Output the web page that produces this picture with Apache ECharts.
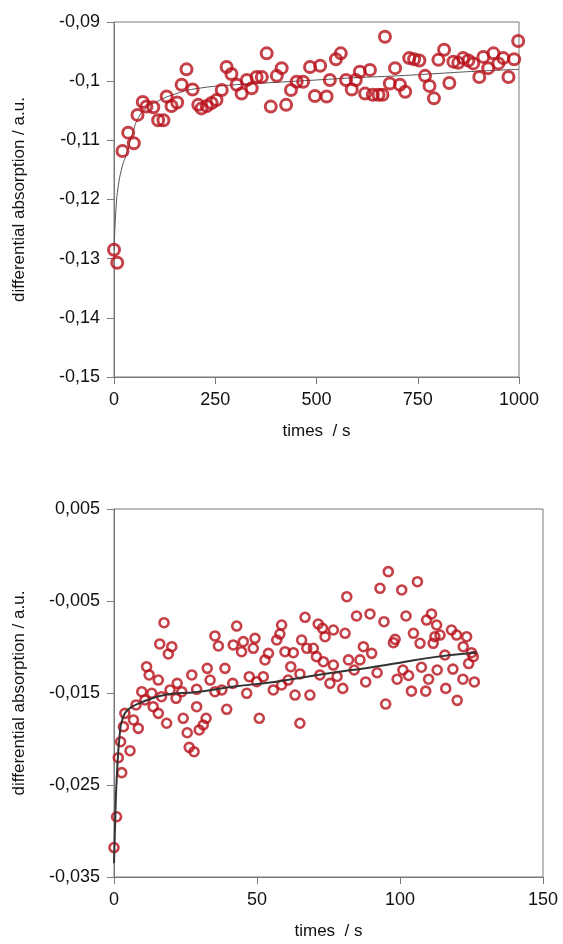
<!DOCTYPE html>
<html>
<head>
<meta charset="utf-8">
<script src="https://cdn.jsdelivr.net/npm/echarts@6/dist/echarts.min.js"></script>
<style>
html,body{margin:0;padding:0;background:#fff;}
#chart{width:563px;height:944px;}
</style>
</head>
<body>
<div id="chart"></div>
<script>
// ---------- Top panel data (time in s, differential absorption) ----------
const topTimes = [0,8,21,35,49,58,71,80,97,109,122,130,142,156,167,179,194,208,216,229,241,253,266,278,290,303,315,328,340,352,365,377,387,402,414,425,437,451,467,484,496,509,525,533,548,560,573,587,597,607,620,632,639,653,663,669,681,694,706,719,729,741,754,768,779,790,801,815,828,838,850,862,875,887,902,912,924,937,949,961,974,988,998];
const topValues = [-0.1285,-0.1307,-0.1118,-0.1087,-0.1105,-0.1057,-0.1035,-0.1043,-0.1044,-0.1066,-0.1066,-0.1026,-0.1042,-0.1036,-0.1006,-0.0980,-0.1014,-0.1040,-0.1046,-0.1042,-0.1037,-0.1032,-0.1015,-0.0976,-0.0988,-0.1006,-0.1021,-0.0998,-0.1012,-0.0993,-0.0993,-0.0953,-0.1043,-0.0991,-0.0978,-0.1040,-0.1015,-0.1001,-0.1001,-0.0976,-0.1025,-0.0974,-0.1026,-0.0998,-0.0963,-0.0953,-0.0998,-0.1014,-0.0998,-0.0984,-0.1021,-0.0981,-0.1023,-0.1023,-0.1023,-0.0925,-0.1004,-0.0978,-0.1006,-0.1018,-0.0961,-0.0963,-0.0965,-0.0991,-0.1008,-0.1029,-0.0964,-0.0947,-0.1003,-0.0967,-0.0969,-0.0961,-0.0965,-0.0970,-0.0993,-0.0959,-0.0978,-0.0953,-0.0970,-0.0961,-0.0993,-0.0963,-0.0932];
const topFitTimes = [0,5,10,20,30,45,60,80,110,150,200,300,400,500,600,700,800,900,1000];
const topFitValues = [-0.1285,-0.1215,-0.1180,-0.1145,-0.1125,-0.1090,-0.1062,-0.1045,-0.1033,-0.1022,-0.1013,-0.1006,-0.1002,-0.0998,-0.0994,-0.0991,-0.0987,-0.0983,-0.0980];

// ---------- Bottom panel data ----------
const botTimes = [0,0.9,1.5,2.3,2.7,3.3,3.8,5.6,6.8,7.7,8.5,9.7,10.8,11.4,12.3,13.2,13.7,15.5,15.5,16,16.6,17.5,18.4,19,19.6,20.2,21.7,22.1,23.7,24.2,25.6,26.3,27.2,28,28.9,28.9,29.8,31.2,32.2,32.6,33.6,35.3,35.3,36.5,37.7,38.8,39.4,41.5,41.7,42.9,44.6,45.2,46.4,47.3,48.7,49.3,49.9,50.8,52.2,52.8,54,55.7,56.9,58,58.6,58.6,59.8,60.9,61.8,62.7,63.3,65,65,65.6,66.8,67.4,68.5,69.7,70.8,71.4,72,72.9,73.2,73.8,75.5,76.7,76.7,78,80,80.8,81.4,82,84,84.8,86,87.2,88,89.5,90.1,92,93,94.4,95,95.9,97.7,98.3,99,100.6,101,102.1,103,104,104.7,106.1,107,107.5,109,109.3,110,111,111.6,112.2,112.8,113,114,115.7,116,118,118.5,119.8,120,122,122.1,123.3,124,125,125.6,126];
const botValues = [-0.0318,-0.02845,-0.02203,-0.0203,-0.02366,-0.01866,-0.01721,-0.02127,-0.01793,-0.0163,-0.01884,-0.01486,-0.01576,-0.01214,-0.01304,-0.01503,-0.01649,-0.01359,-0.01721,-0.00967,-0.0154,-0.00736,-0.01829,-0.01076,-0.01467,-0.00997,-0.01558,-0.01395,-0.01486,-0.01775,-0.01932,-0.02091,-0.01304,-0.02138,-0.0146,-0.01649,-0.01902,-0.01848,-0.01775,-0.01232,-0.01359,-0.0088,-0.01486,-0.00989,-0.01467,-0.01232,-0.01677,-0.01395,-0.00978,-0.00772,-0.01051,-0.00942,-0.01503,-0.01323,-0.01014,-0.00906,-0.01377,-0.01775,-0.01323,-0.01141,-0.01069,-0.01467,-0.00924,-0.00859,-0.00761,-0.01413,-0.01051,-0.01359,-0.01214,-0.01062,-0.01522,-0.01829,-0.01293,-0.00924,-0.00677,-0.01014,-0.01522,-0.01014,-0.01105,-0.0075,-0.01304,-0.00797,-0.0116,-0.00888,-0.01395,-0.00815,-0.01196,-0.0132,-0.0145,-0.00851,-0.00453,-0.0114,-0.0125,-0.00663,-0.0114,-0.00997,-0.0138,-0.00641,-0.01069,-0.0128,-0.00362,-0.00725,-0.0162,-0.00181,-0.00953,-0.00917,-0.0135,-0.0038,-0.0125,-0.00663,-0.0131,-0.0148,-0.00851,-0.0029,-0.0096,-0.0122,-0.0148,-0.00707,-0.0135,-0.00641,-0.0096,-0.00888,-0.00761,-0.0125,-0.0087,-0.01087,-0.0145,-0.00815,-0.0124,-0.0087,-0.0158,-0.0135,-0.00997,-0.00888,-0.0118,-0.01062,-0.01105,-0.0138];
const botFitTimes = [0,0.5,1,2,3,5,9,18,29,42,56,70,83,88,100,112,127];
const botFitValues = [-0.0335,-0.0280,-0.0240,-0.0195,-0.0178,-0.0168,-0.0161,-0.0152,-0.0149,-0.0143,-0.0138,-0.0131,-0.0125,-0.0123,-0.0117,-0.0111,-0.0106];

// ---------- Tick labels ----------
const topXTicks = [0,250,500,750,1000];
const topYTicks = [-0.15,-0.14,-0.13,-0.12,-0.11,-0.1,-0.09];
const botXTicks = [0,50,100,150];
const botYTicks = [-0.035,-0.025,-0.015,-0.005,0.005];

const yName = 'differential absorption / a.u.';
const xName = 'times  / s';

function pairs(xs, ys){ return xs.map((x,i)=>[x, ys[i]]); }

const FONT = '"Liberation Sans", Arial, sans-serif';
const AX = '#7a7a7a';
const RED = '#b8101a';

function xAxisCfg(idx, min, max, ticks){
  return {
    type:'value', gridIndex: idx, min, max,
    name: xName, nameLocation:'middle', nameGap: 46,
    nameTextStyle:{fontFamily:FONT, fontSize:17, color:'#111'},
    axisLine:{show:true, onZero:false, lineStyle:{color:AX, width:1}},
    axisTick:{show:true, inside:false, length:7, lineStyle:{color:AX}, customValues: ticks},
    axisLabel:{fontFamily:FONT, fontSize:18, color:'#111', margin:14, customValues: ticks,
      formatter: v => String(v)},
    splitLine:{show:false}
  };
}
function yAxisCfg(idx, min, max, ticks, digits){
  return {
    type:'value', gridIndex: idx, min, max,
    name: yName, nameLocation:'middle', nameGap: 86,
    nameTextStyle:{fontFamily:FONT, fontSize:17, color:'#111'},
    axisLine:{show:true, onZero:false, lineStyle:{color:AX, width:1}},
    axisTick:{show:true, inside:false, length:7, lineStyle:{color:AX}, customValues: ticks},
    axisLabel:{fontFamily:FONT, fontSize:18, color:'#111', margin:14, customValues: ticks,
      formatter: v => {
        let s = (Math.round(v*Math.pow(10,digits))/Math.pow(10,digits)).toString();
        return s.replace('.', ',');
      }},
    splitLine:{show:false}
  };
}

const chart = echarts.init(document.getElementById('chart'), null, {renderer:'canvas'});
chart.setOption({
  animation:false,
  backgroundColor:'#fff',
  grid:[
    {left:114, top:22, width:405, height:355, show:true, borderColor:AX, borderWidth:1, backgroundColor:'transparent'},
    {left:114, top:509, width:429, height:368, show:true, borderColor:AX, borderWidth:1, backgroundColor:'transparent'}
  ],
  xAxis:[ xAxisCfg(0, 0, 1000, topXTicks), xAxisCfg(1, 0, 150, botXTicks) ],
  yAxis:[ yAxisCfg(0, -0.15, -0.09, topYTicks, 2), yAxisCfg(1, -0.035, 0.005, botYTicks, 3) ],
  series:[
    {type:'line', xAxisIndex:0, yAxisIndex:0, data: pairs(topFitTimes, topFitValues), showSymbol:false, smooth:true,
     lineStyle:{color:'#555', width:1}, z:1},
    {type:'scatter', xAxisIndex:0, yAxisIndex:0, data: pairs(topTimes, topValues), symbol:'circle', symbolSize:11,
     itemStyle:{color:'rgba(0,0,0,0)', borderColor:RED, borderWidth:3}, z:2},
    {type:'scatter', xAxisIndex:1, yAxisIndex:1, data: pairs(botTimes, botValues), symbol:'circle', symbolSize:9,
     itemStyle:{color:'rgba(0,0,0,0)', borderColor:RED, borderWidth:2.6}, z:2},
    {type:'line', xAxisIndex:1, yAxisIndex:1, data: pairs(botFitTimes, botFitValues), showSymbol:false, smooth:true,
     lineStyle:{color:'#333', width:2}, z:3}
  ]
});
</script>
</body>
</html>
